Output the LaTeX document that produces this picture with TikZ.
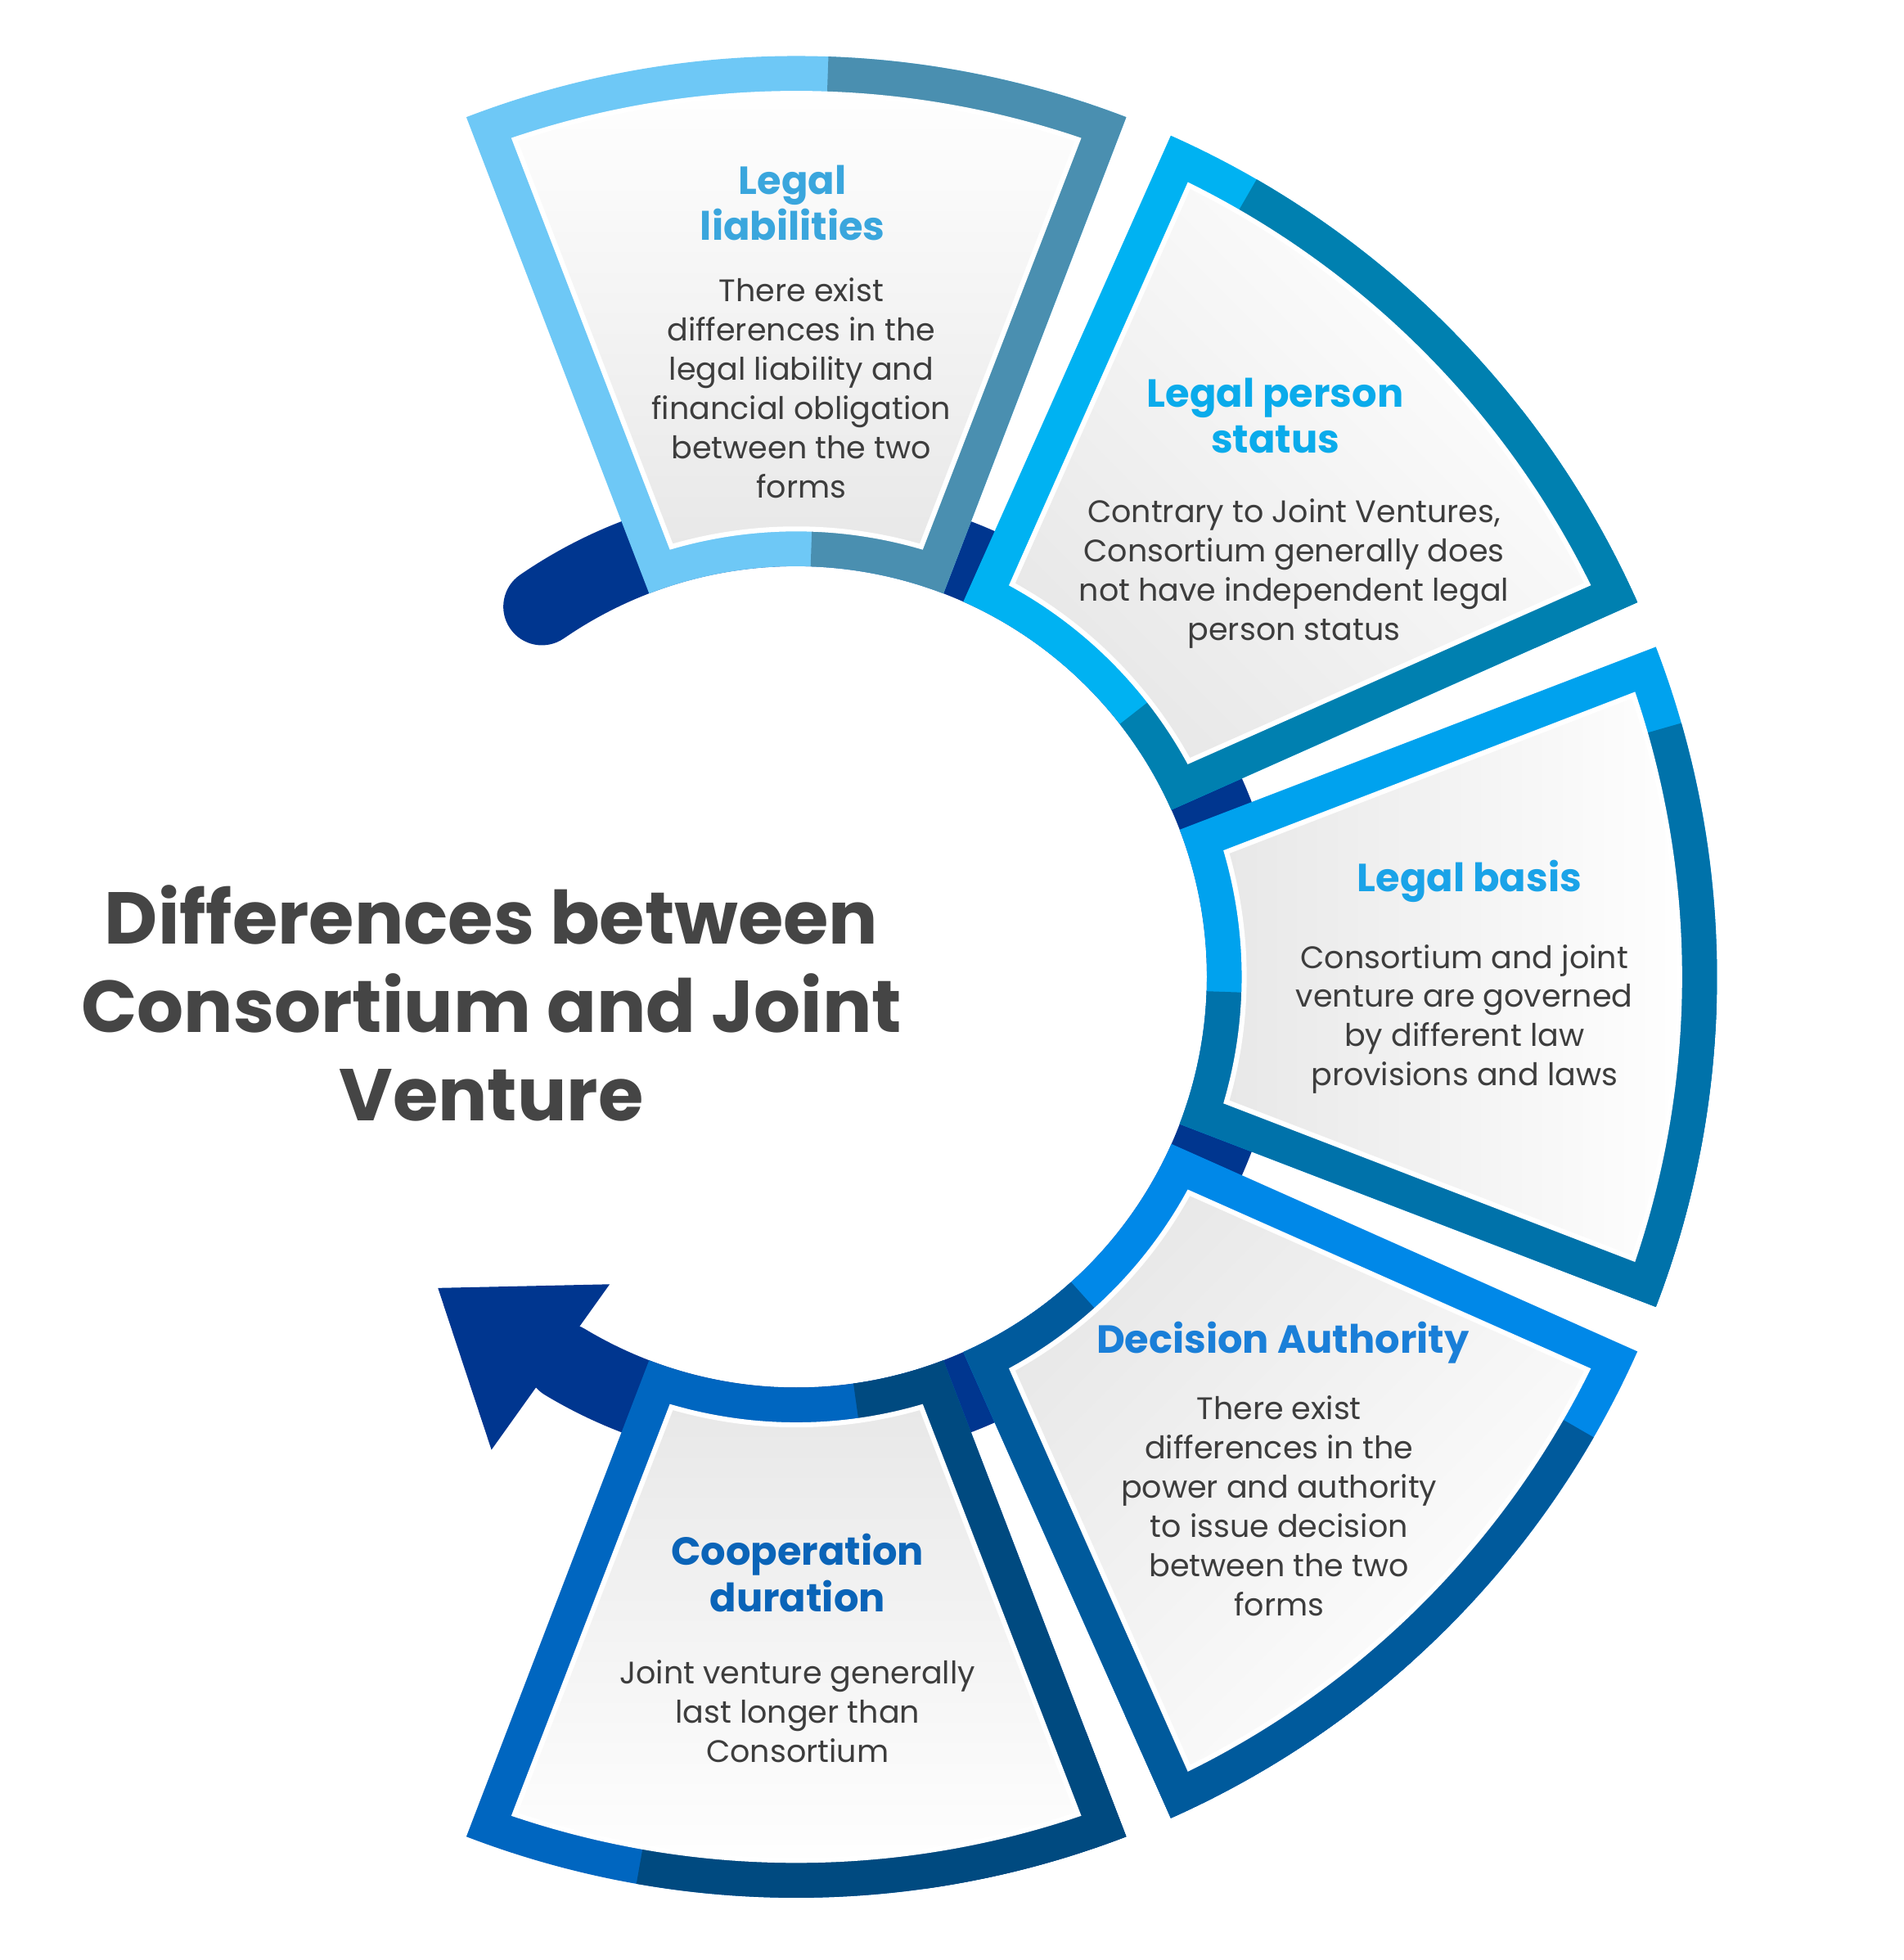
\documentclass[tikz,border=0pt]{standalone}
\usepackage{fontspec}
\setmainfont{Poppins}
\definecolor{navy}{HTML}{00368F}
\definecolor{txt}{HTML}{3D3D3D}
\definecolor{ttl}{HTML}{454545}
\definecolor{cA}{HTML}{6EC8F6}\definecolor{dA}{HTML}{4A8FB0}\definecolor{tA}{HTML}{3AA6DD}
\definecolor{cB}{HTML}{00B2F2}\definecolor{dB}{HTML}{0080B0}\definecolor{tB}{HTML}{0AABEB}
\definecolor{cC}{HTML}{00A2EE}\definecolor{dC}{HTML}{0072AA}\definecolor{tC}{HTML}{1AA3E8}
\definecolor{cD}{HTML}{0088E8}\definecolor{dD}{HTML}{005A9C}\definecolor{tD}{HTML}{1A7FD8}
\definecolor{cE}{HTML}{0066C0}\definecolor{dE}{HTML}{004A80}\definecolor{tE}{HTML}{0A64B8}
% #1,#2 angles; #3 light; #4 dark; #5,#6 dark edge wedge; #7,#8 dark outer ring
\newcommand\mysector[8]{%
  \pgfmathsetmacro\mid{(#1+#2)/2}%
  \begin{scope}
    \clip (#1:330) -- (#1:740) arc[start angle=#1,end angle=#2,radius=740] -- (#2:330) arc[start angle=#2,end angle=#1,radius=330] -- cycle;
    \fill[#3] (-800,-800) rectangle (900,800);
    \fill[#4] (0,0) -- (#5:900) arc[start angle=#5,end angle=#6,radius=900] -- cycle;
    \fill[#4] (#7:650) -- (#7:900) arc[start angle=#7,end angle=#8,radius=900] -- (#8:650) arc[start angle=#8,end angle=#7,radius=650] -- cycle;
  \end{scope}
  \pgfmathsetmacro\aa{#1+2.4}\pgfmathsetmacro\ab{#2-2.4}%
  \pgfmathsetmacro\ac{#2-4.8}\pgfmathsetmacro\ad{#1+4.8}%
  \draw[white,line width=4,left color=gray!18,right color=white,shading angle=\mid+90]
    (\aa:710) arc[start angle=\aa,end angle=\ab,radius=710] -- (\ac:360) arc[start angle=\ac,end angle=\ad,radius=360] -- cycle;
}
\tikzset{body/.style={align=center,text=txt,font=\fontsize{25}{31.5}\selectfont},
  head/.style={align=center,font=\bfseries\fontsize{31.5}{37}\selectfont}}
\begin{document}
\begin{tikzpicture}[x=1pt,y=1pt]
\useasboundingbox[fill=white] (-640,-790) rectangle (890,785);
\draw[navy,line width=62,line cap=round] (124.5:361) arc[start angle=124.5,end angle=-121,radius=361];
\fill[navy] (-288,-250) -- (-150,-247) -- (-245,-380) -- cycle;
\mysector{69}{111}{cA}{dA}{60}{88}{0}{0}
\mysector{24}{66}{cB}{dB}{15}{38}{15}{60}
\mysector{-21}{21}{cC}{dC}{-30}{-2}{-30}{16}
\mysector{-66}{-24}{cD}{dD}{-75}{-48}{-75}{-30}
\mysector{-111}{-69}{cE}{dE}{-82}{-60}{-100}{-60}
\node[head,text=tA] (h1) at (-3,622) {Legal\\liabilities};
\node[body] (b1) at (4,473) {There exist\\differences in the\\legal liability and\\financial obligation\\between the two\\forms};
\node[head,text=tB] (h2) at (385,451) {Legal person\\status};
\node[body] (b2) at (400,324) {Contrary to Joint Ventures,\\Consortium generally does\\not have independent legal\\person status};
\node[head,text=tC] (h3) at (541,77) {Legal basis};
\node[body] (b3) at (537,-34) {Consortium and joint\\venture are governed\\by different law\\provisions and laws};
\node[head,text=tD] (h4) at (391,-294) {Decision Authority};
\node[body] (b4) at (388,-425) {There exist\\differences in the\\power and authority\\to issue decision\\between the two\\forms};
\node[head,text=tE] (h5) at (1,-479) {Cooperation\\duration};
\node[body] (b5) at (1,-590) {Joint venture generally\\last longer than\\Consortium};
\node[align=center,text=ttl,font=\bfseries\fontsize{59}{71}\selectfont] (t) at (-245,-21) {Differences between\\Consortium and Joint\\Venture};
\end{tikzpicture}
\end{document}
